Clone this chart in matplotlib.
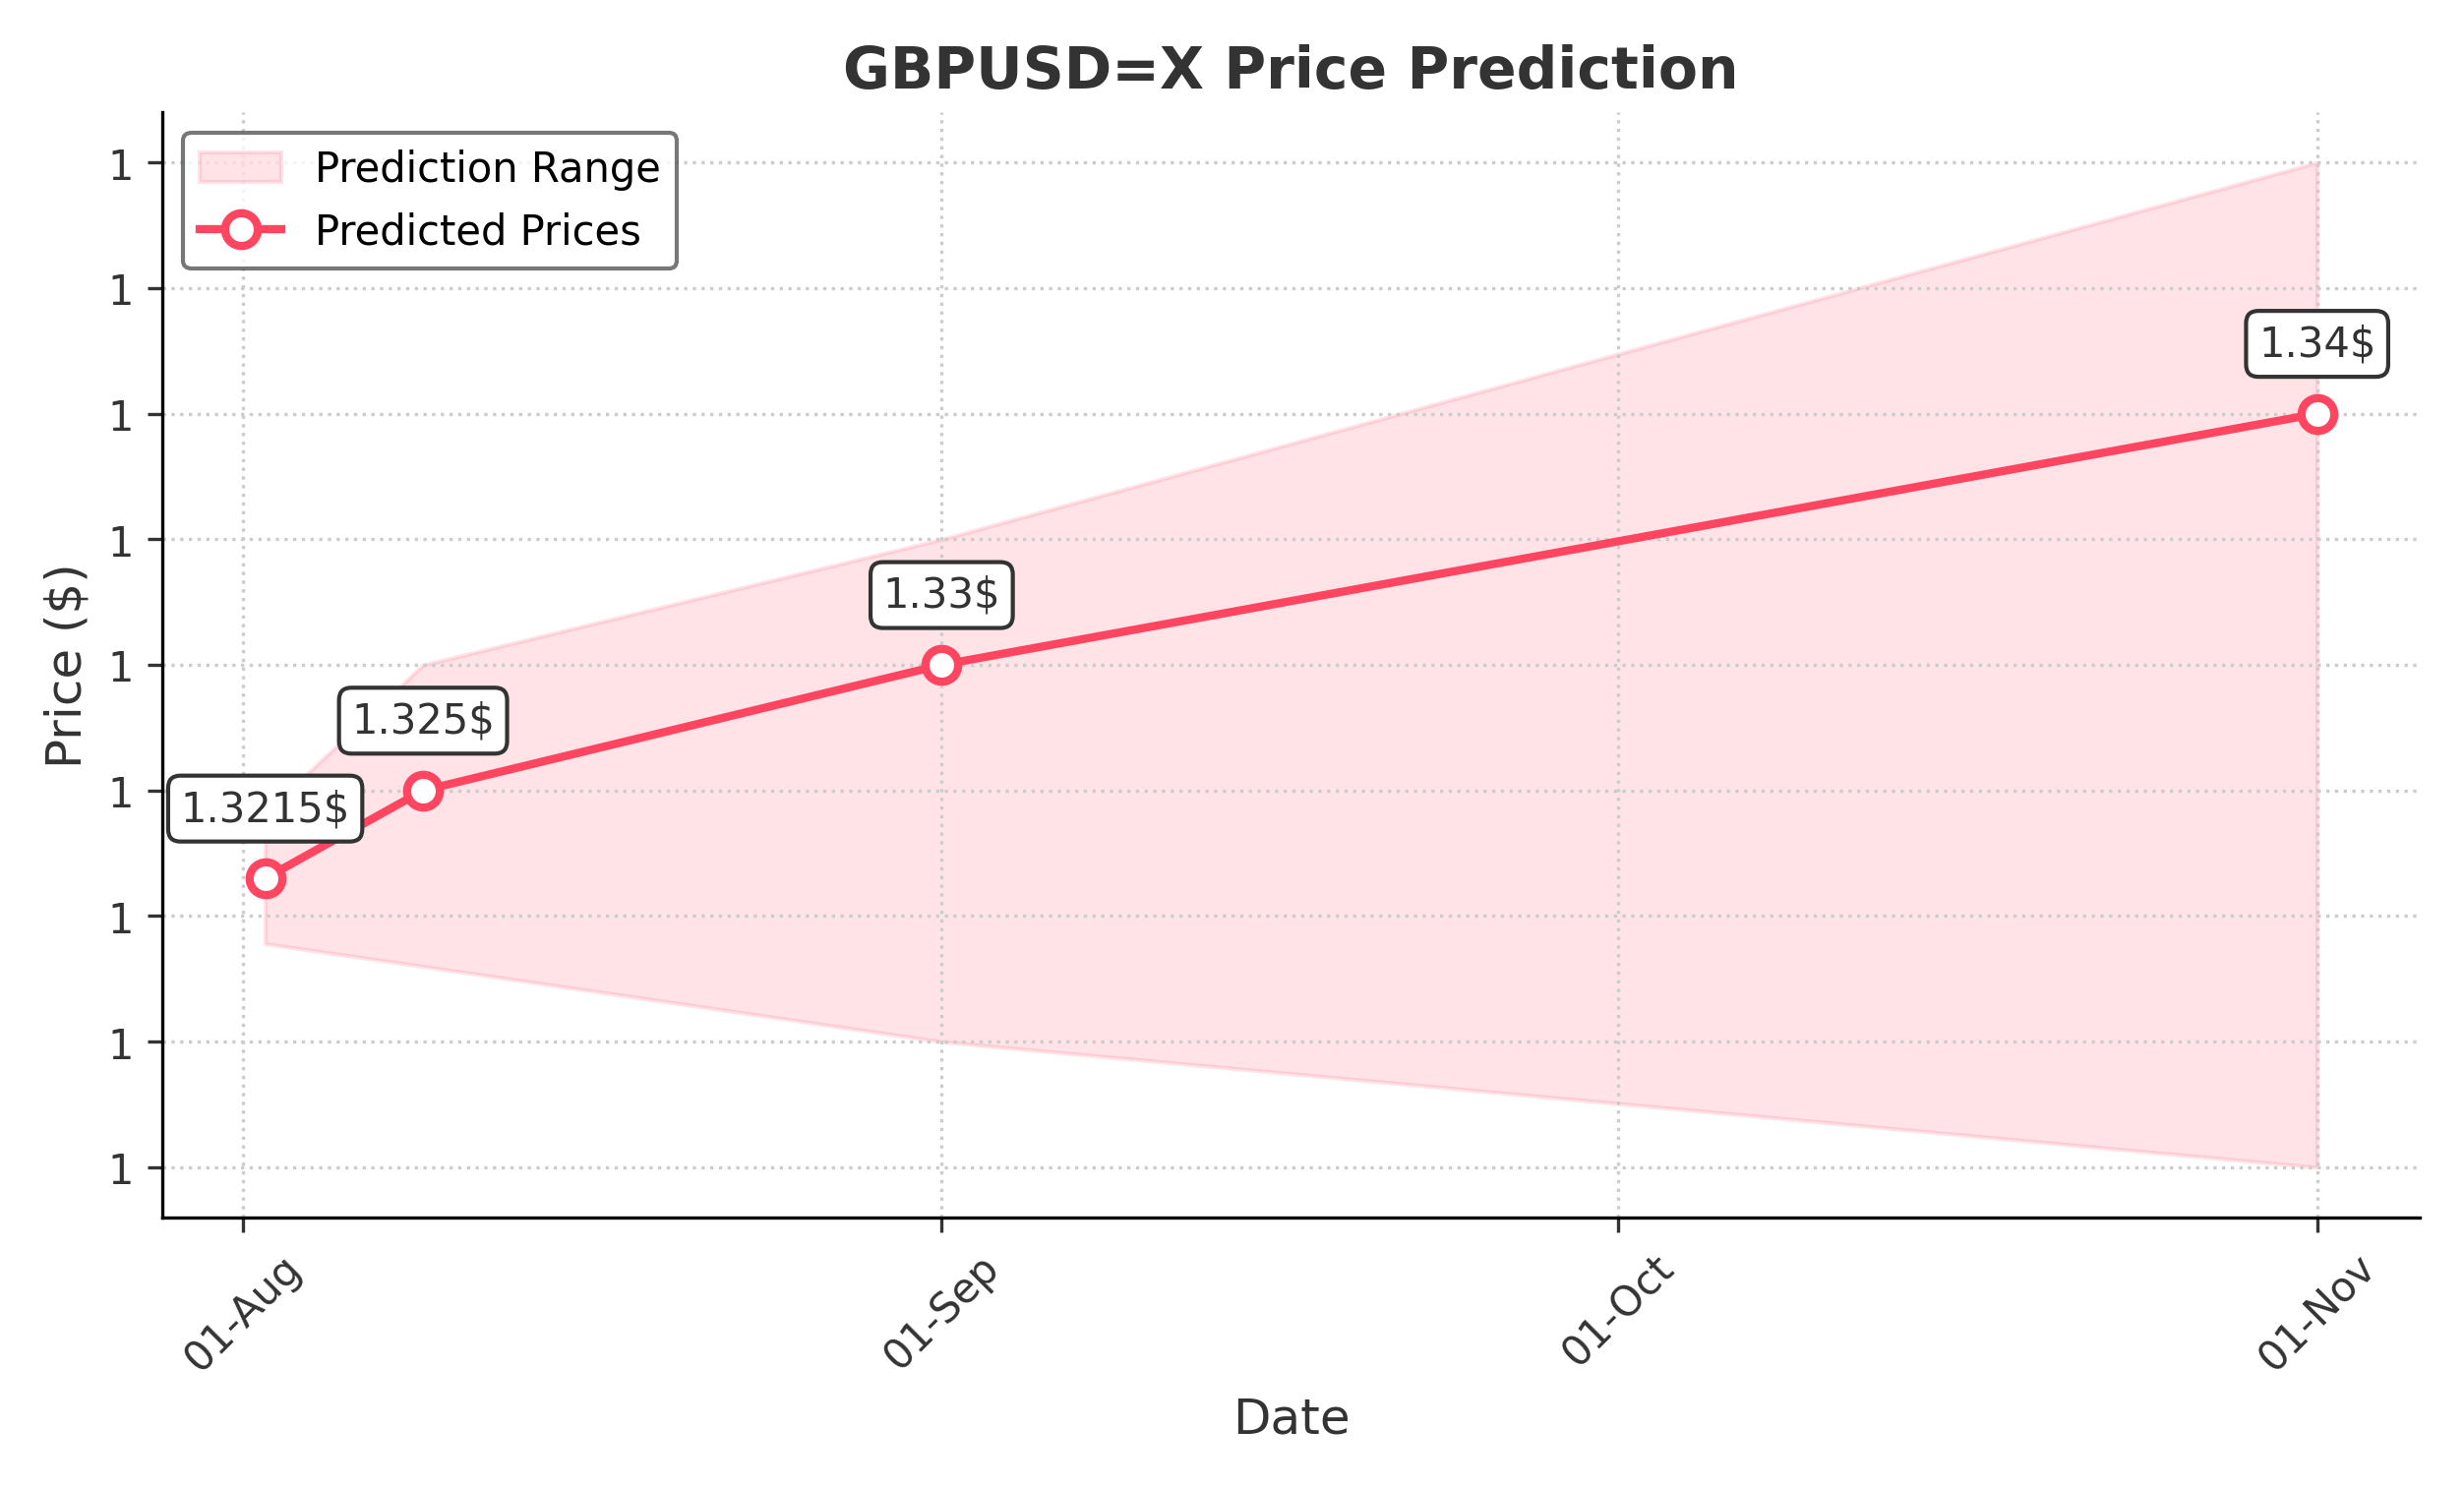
import matplotlib
matplotlib.use("Agg")
import matplotlib.pyplot as plt
import matplotlib.dates as mdates
from matplotlib.ticker import FormatStrFormatter
import pandas as pd

dates = pd.to_datetime(["2024-08-02", "2024-08-09", "2024-09-01", "2024-11-01"])
prices = [1.3215, 1.325, 1.33, 1.34]
upper = [1.3241, 1.33, 1.335, 1.35]
lower = [1.3189, 1.318, 1.315, 1.31]
labels = ["1.3215$", "1.325$", "1.33$", "1.34$"]

color = "#FF4560"
fig, ax = plt.subplots(figsize=(8.35, 5.043), dpi=300)
ax.fill_between(dates, lower, upper, color=color, alpha=0.15, label="Prediction Range")
ax.plot(dates, prices, color=color, lw=2, marker="o", ms=8, mfc="white", mew=2,
        label="Predicted Prices")
for d, p, t in zip(dates, prices, labels):
    ax.annotate(t, (d, p), xytext=(0, 12), textcoords="offset points", ha="center",
                va="bottom", fontsize=10, color="#333333",
                bbox=dict(boxstyle="round,pad=0.3", fc="white", ec="#333333", lw=1))
ax.set_title("GBPUSD=X Price Prediction", fontsize=14, fontweight="bold", color="#333333")
ax.set_xlabel("Date", fontsize=12, color="#333333")
ax.set_ylabel("Price ($)", fontsize=12, color="#333333")
ax.xaxis.set_major_locator(mdates.MonthLocator())
ax.xaxis.set_major_formatter(mdates.DateFormatter("%d-%b"))
ax.yaxis.set_major_formatter(FormatStrFormatter("%.0f"))
plt.setp(ax.get_xticklabels(), rotation=45)
ax.tick_params(colors="#333333")
ax.grid(True, linestyle=":", color="#cccccc", lw=0.8)
for s in ["top", "right"]:
    ax.spines[s].set_visible(False)
ax.legend(loc="upper left", edgecolor="#555555", fontsize=10)
fig.tight_layout()
fig.savefig("out.png", dpi=300)
